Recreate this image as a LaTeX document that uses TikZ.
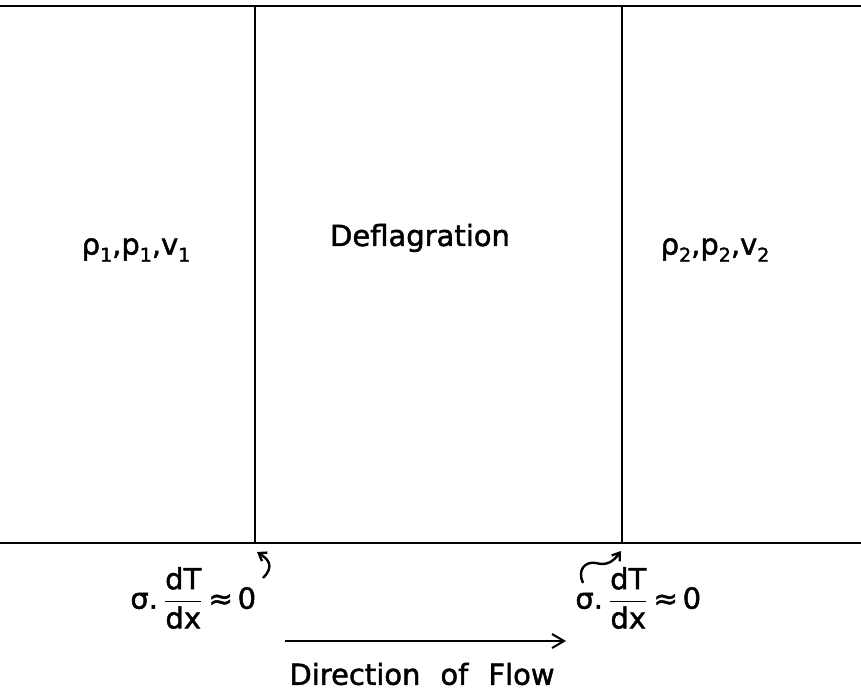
\documentclass[tikz,border=0pt]{standalone}
\usepackage{fontspec}
\setmainfont{DejaVu Sans}[FakeBold=1.6]
\usetikzlibrary{arrows.meta}
\newcommand{\sbx}[1]{\raisebox{-0.45ex}{\fontsize{9.5}{9.5}\selectfont #1}}
\begin{document}
\begin{tikzpicture}[x=0.5pt,y=-0.5pt,
  wall/.style={line width=1.3pt},
  lbl/.style={font=\fontsize{14.5}{17}\selectfont\addfontfeatures{FakeBold=1.6}, inner sep=0pt},
  curl/.style={line width=1.2pt, -{Straight Barb[length=3.5pt,width=5pt]}},
  flow/.style={line width=1pt, -{Straight Barb[length=6pt,width=7pt]}}]
\useasboundingbox (0,0) rectangle (861,694);
\coordinate (tl) at (0,6);
\coordinate (tr) at (861,6);
\coordinate (bl) at (0,543);
\coordinate (br) at (861,543);
\coordinate (aTop) at (255,6);
\coordinate (aBot) at (255,543);
\coordinate (bTop) at (622,6);
\coordinate (bBot) at (622,543);
\draw[wall] (tl) -- (tr);
\draw[wall] (bl) -- (br);
\draw[wall] (aTop) -- (aBot);
\draw[wall] (bTop) -- (bBot);

\node[lbl] (s1) at (136,250) {ρ\sbx{1},p\sbx{1},v\sbx{1}};
\node[lbl] (defl) at (420,238) {Deflagration};
\node[lbl] (s2) at (715,250) {ρ\sbx{2},p\sbx{2},v\sbx{2}};

\node[lbl, anchor=west] (f1) at (130,598)
  {$\mbox{σ.}\,\displaystyle\frac{\mbox{dT}}{\mbox{dx}}\mbox{\,≈\,0}$};
\node[lbl, anchor=west] (f2) at (575,598)
  {$\mbox{σ.}\,\displaystyle\frac{\mbox{dT}}{\mbox{dx}}\mbox{\,≈\,0}$};

\coordinate (c1s) at (263,578);
\coordinate (c1e) at (257,552);
\draw[curl] (c1s) .. controls (275,566) and (268,559) .. (c1e);
\coordinate (c2s) at (583,583);
\coordinate (c2m) at (596,563);
\coordinate (c2e) at (621,551);
\draw[curl] (c2s) .. controls (577,570) and (585,561) .. (c2m)
  .. controls (606,566) and (613,562) .. (c2e);

\coordinate (fs) at (285,641);
\coordinate (fe) at (566,641);
\draw[flow] (fs) -- (fe);
\node[lbl] (dir) at (422,674) {Direction\hspace{10pt}of\hspace{10pt}Flow};
\end{tikzpicture}
\end{document}
